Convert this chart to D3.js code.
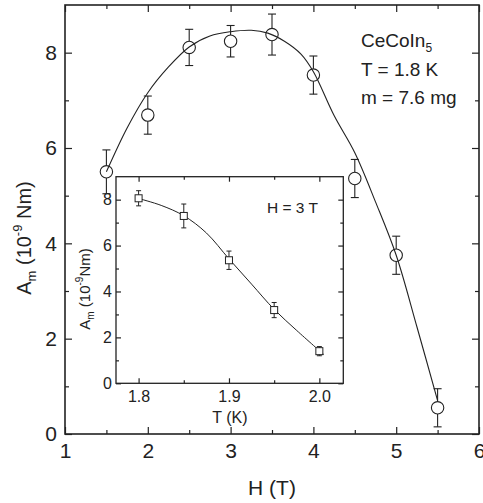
<!DOCTYPE html>
<html>
<head>
<meta charset="utf-8">
<script src="https://cdn.jsdelivr.net/npm/d3@7"></script>
<style>
  html, body { margin: 0; padding: 0; background: #fff; }
  svg text { font-family: "Liberation Sans", Arial, Helvetica, sans-serif; fill: #222; }
</style>
</head>
<body>
<svg id="chart" width="483" height="503"></svg>
<script>
// ---- Data (main panel) ----
const mainH   = [1.5, 2.0, 2.5, 3.0, 3.5, 4.0, 4.5, 5.0, 5.5];
const mainA   = [5.50, 6.69, 8.11, 8.24, 8.38, 7.53, 5.36, 3.75, 0.55];
const mainErr = [0.46, 0.40, 0.38, 0.33, 0.43, 0.40, 0.40, 0.40, 0.40];
const fitH = [1.5, 1.75, 2.0, 2.25, 2.5, 2.75, 3.0, 3.25, 3.45, 3.65, 3.85, 4.0, 4.25, 4.5, 4.75, 5.0, 5.25, 5.5];
const fitA = [5.5, 6.42, 7.16, 7.7, 8.12, 8.35, 8.44, 8.47, 8.41, 8.24, 7.97, 7.6, 6.68, 5.9, 4.87, 3.75, 2.25, 0.7];
const mainXTicks = [1, 2, 3, 4, 5, 6];
const mainXMinor = [1.5, 2.5, 3.5, 4.5, 5.5];
const mainYTicks = [0, 2, 4, 6, 8];
const mainYMinor = [1, 3, 5, 7];

// ---- Data (inset) ----
const insetT   = [1.80, 1.85, 1.90, 1.95, 2.00];
const insetA   = [8.06, 7.29, 5.36, 3.19, 1.40];
const insetErr = [0.33, 0.52, 0.40, 0.33, 0.20];
const insetFitT = [1.8, 1.825, 1.85, 1.875, 1.9, 1.925, 1.95, 1.975, 2.005];
const insetFitA = [8.05, 7.75, 7.3, 6.55, 5.42, 4.32, 3.22, 2.3, 1.25];
const insetXTicks = [1.8, 1.9, 2.0];
const insetXMinor = [1.85, 1.95];
const insetYTicks = [0, 2, 4, 6, 8];
const insetYMinor = [1, 3, 5, 7];

const ink = "#222";
const svg = d3.select("#chart");

// ---------- MAIN PANEL ----------
const M = {l: 65, r: 479, t: 5, b: 434};
const x = d3.scaleLinear().domain([1, 6]).range([M.l, M.r]);
const y = d3.scaleLinear().domain([0, 9]).range([M.b, M.t]);

function styleAxis(g, fontSize) {
  g.select(".domain").remove();
  g.selectAll(".tick line").attr("stroke", ink).attr("stroke-width", 1.2);
  g.selectAll(".tick text").attr("font-size", fontSize).attr("fill", ink)
    .style("font-family", '"Liberation Sans", Arial, sans-serif');
}

// Bottom axis with labels
svg.append("g").attr("transform", `translate(0,${M.b})`)
  .call(d3.axisBottom(x).tickValues(mainXTicks).tickFormat(d3.format("d")).tickSizeInner(-7).tickSizeOuter(0).tickPadding(9))
  .call(g => styleAxis(g, 21));
svg.append("g").attr("transform", `translate(0,${M.b})`)
  .call(d3.axisBottom(x).tickValues(mainXMinor).tickFormat("").tickSizeInner(-4).tickSizeOuter(0))
  .call(g => styleAxis(g, 21));
// Top ticks
svg.append("g").attr("transform", `translate(0,${M.t})`)
  .call(d3.axisTop(x).tickValues(mainXTicks).tickFormat("").tickSizeInner(-7).tickSizeOuter(0))
  .call(g => styleAxis(g, 21));
svg.append("g").attr("transform", `translate(0,${M.t})`)
  .call(d3.axisTop(x).tickValues(mainXMinor).tickFormat("").tickSizeInner(-4).tickSizeOuter(0))
  .call(g => styleAxis(g, 21));
// Left axis with labels
svg.append("g").attr("transform", `translate(${M.l},0)`)
  .call(d3.axisLeft(y).tickValues(mainYTicks).tickFormat(d3.format("d")).tickSizeInner(-7).tickSizeOuter(0).tickPadding(8))
  .call(g => styleAxis(g, 21));
svg.append("g").attr("transform", `translate(${M.l},0)`)
  .call(d3.axisLeft(y).tickValues(mainYMinor).tickFormat("").tickSizeInner(-4).tickSizeOuter(0))
  .call(g => styleAxis(g, 21));
// Right ticks
svg.append("g").attr("transform", `translate(${M.r},0)`)
  .call(d3.axisRight(y).tickValues(mainYTicks).tickFormat("").tickSizeInner(-7).tickSizeOuter(0))
  .call(g => styleAxis(g, 21));
svg.append("g").attr("transform", `translate(${M.r},0)`)
  .call(d3.axisRight(y).tickValues(mainYMinor).tickFormat("").tickSizeInner(-4).tickSizeOuter(0))
  .call(g => styleAxis(g, 21));

// Frame
svg.append("rect").attr("x", M.l).attr("y", M.t).attr("width", M.r - M.l).attr("height", M.b - M.t)
  .attr("fill", "none").attr("stroke", ink).attr("stroke-width", 1.6);

// Fit curve
const fitData = fitH.map((h, i) => [h, fitA[i]]);
svg.append("path").datum(fitData)
  .attr("d", d3.line().x(d => x(d[0])).y(d => y(d[1])).curve(d3.curveCatmullRom.alpha(0.5)))
  .attr("fill", "none").attr("stroke", ink).attr("stroke-width", 1.1);

// Error bars + circles
const R = 6.2, cap = 4;
const pts = mainH.map((h, i) => ({h, a: mainA[i], e: mainErr[i]}));
const eb = svg.append("g").attr("stroke", ink).attr("stroke-width", 1.1);
pts.forEach(p => {
  const cx = x(p.h), cy = y(p.a), yt = y(p.a + p.e), yb = y(p.a - p.e);
  eb.append("line").attr("x1", cx).attr("x2", cx).attr("y1", yt).attr("y2", cy - R);
  eb.append("line").attr("x1", cx).attr("x2", cx).attr("y1", cy + R).attr("y2", yb);
  eb.append("line").attr("x1", cx - cap).attr("x2", cx + cap).attr("y1", yt).attr("y2", yt);
  eb.append("line").attr("x1", cx - cap).attr("x2", cx + cap).attr("y1", yb).attr("y2", yb);
});
svg.append("g").selectAll("circle").data(pts).join("circle")
  .attr("cx", d => x(d.h)).attr("cy", d => y(d.a)).attr("r", R)
  .attr("fill", "none").attr("stroke", ink).attr("stroke-width", 1.1);

// Axis titles
svg.append("text").attr("x", (M.l + M.r) / 2).attr("y", 495).attr("text-anchor", "middle")
  .attr("font-size", 21).text("H (T)");
const yl = svg.append("text").attr("transform", "translate(31,238) rotate(-90)")
  .attr("text-anchor", "middle").attr("font-size", 20);
yl.append("tspan").text("A");
yl.append("tspan").attr("font-size", 13).attr("dy", 5).text("m");
yl.append("tspan").attr("dy", -5).text(" (10");
yl.append("tspan").attr("font-size", 13).attr("dy", -9).text("-9");
yl.append("tspan").attr("dy", 9).text(" Nm)");

// Legend text
const lg = svg.append("g").attr("font-size", 19);
const t1 = lg.append("text").attr("x", 361).attr("y", 47);
t1.append("tspan").text("CeCoIn");
t1.append("tspan").attr("font-size", 12).attr("dy", 5).text("5");
lg.append("text").attr("x", 361).attr("y", 76).text("T = 1.8 K");
lg.append("text").attr("x", 361).attr("y", 104).text("m = 7.6 mg");

// ---------- INSET ----------
const I = {l: 116, r: 343.3, t: 176.7, b: 383.3};
const xi = d3.scaleLinear().domain([1.775, 2.0265]).range([I.l, I.r]);
const yi = d3.scaleLinear().domain([0, 9]).range([I.b, I.t]);

svg.append("rect").attr("x", I.l).attr("y", I.t).attr("width", I.r - I.l).attr("height", I.b - I.t)
  .attr("fill", "#fff").attr("stroke", "none");

svg.append("g").attr("transform", `translate(0,${I.b})`)
  .call(d3.axisBottom(xi).tickValues(insetXTicks).tickFormat(d3.format(".1f")).tickSizeInner(-5).tickSizeOuter(0).tickPadding(7))
  .call(g => styleAxis(g, 16));
svg.append("g").attr("transform", `translate(0,${I.b})`)
  .call(d3.axisBottom(xi).tickValues(insetXMinor).tickFormat("").tickSizeInner(-3).tickSizeOuter(0))
  .call(g => styleAxis(g, 16));
svg.append("g").attr("transform", `translate(0,${I.t})`)
  .call(d3.axisTop(xi).tickValues(insetXTicks).tickFormat("").tickSizeInner(-5).tickSizeOuter(0))
  .call(g => styleAxis(g, 16));
svg.append("g").attr("transform", `translate(0,${I.t})`)
  .call(d3.axisTop(xi).tickValues(insetXMinor).tickFormat("").tickSizeInner(-3).tickSizeOuter(0))
  .call(g => styleAxis(g, 16));
svg.append("g").attr("transform", `translate(${I.l},0)`)
  .call(d3.axisLeft(yi).tickValues(insetYTicks).tickFormat(d3.format("d")).tickSizeInner(-5).tickSizeOuter(0).tickPadding(4))
  .call(g => styleAxis(g, 16));
svg.append("g").attr("transform", `translate(${I.l},0)`)
  .call(d3.axisLeft(yi).tickValues(insetYMinor).tickFormat("").tickSizeInner(-3).tickSizeOuter(0))
  .call(g => styleAxis(g, 16));
svg.append("g").attr("transform", `translate(${I.r},0)`)
  .call(d3.axisRight(yi).tickValues(insetYTicks).tickFormat("").tickSizeInner(-5).tickSizeOuter(0))
  .call(g => styleAxis(g, 16));
svg.append("g").attr("transform", `translate(${I.r},0)`)
  .call(d3.axisRight(yi).tickValues(insetYMinor).tickFormat("").tickSizeInner(-3).tickSizeOuter(0))
  .call(g => styleAxis(g, 16));

svg.append("rect").attr("x", I.l).attr("y", I.t).attr("width", I.r - I.l).attr("height", I.b - I.t)
  .attr("fill", "none").attr("stroke", ink).attr("stroke-width", 1.3);

const ifit = insetFitT.map((t, i) => [t, insetFitA[i]]);
svg.append("path").datum(ifit)
  .attr("d", d3.line().x(d => xi(d[0])).y(d => yi(d[1])).curve(d3.curveCatmullRom.alpha(0.5)))
  .attr("fill", "none").attr("stroke", ink).attr("stroke-width", 1);

const S = 3.5, icap = 2.5;
const ipts = insetT.map((t, i) => ({t, a: insetA[i], e: insetErr[i]}));
const ieb = svg.append("g").attr("stroke", ink).attr("stroke-width", 1);
ipts.forEach(p => {
  const cx = xi(p.t), cy = yi(p.a), yt = yi(p.a + p.e), yb = yi(p.a - p.e);
  ieb.append("line").attr("x1", cx).attr("x2", cx).attr("y1", yt).attr("y2", yb);
  ieb.append("line").attr("x1", cx - icap).attr("x2", cx + icap).attr("y1", yt).attr("y2", yt);
  ieb.append("line").attr("x1", cx - icap).attr("x2", cx + icap).attr("y1", yb).attr("y2", yb);
});
svg.append("g").selectAll("rect").data(ipts).join("rect")
  .attr("x", d => xi(d.t) - S).attr("y", d => yi(d.a) - S).attr("width", 2 * S).attr("height", 2 * S)
  .attr("fill", "#fff").attr("stroke", ink).attr("stroke-width", 1);

svg.append("text").attr("x", 267).attr("y", 213).attr("font-size", 15.5).text("H = 3 T");
svg.append("text").attr("x", 230).attr("y", 423).attr("text-anchor", "middle").attr("font-size", 16).text("T (K)");
const iyl = svg.append("text").attr("transform", "translate(90,289) rotate(-90)")
  .attr("text-anchor", "middle").attr("font-size", 15);
iyl.append("tspan").text("A");
iyl.append("tspan").attr("font-size", 10).attr("dy", 4).text("m");
iyl.append("tspan").attr("dy", -4).text(" (10");
iyl.append("tspan").attr("font-size", 10).attr("dy", -7).text("-9");
iyl.append("tspan").attr("dy", 7).text("Nm)");
</script>
</body>
</html>
